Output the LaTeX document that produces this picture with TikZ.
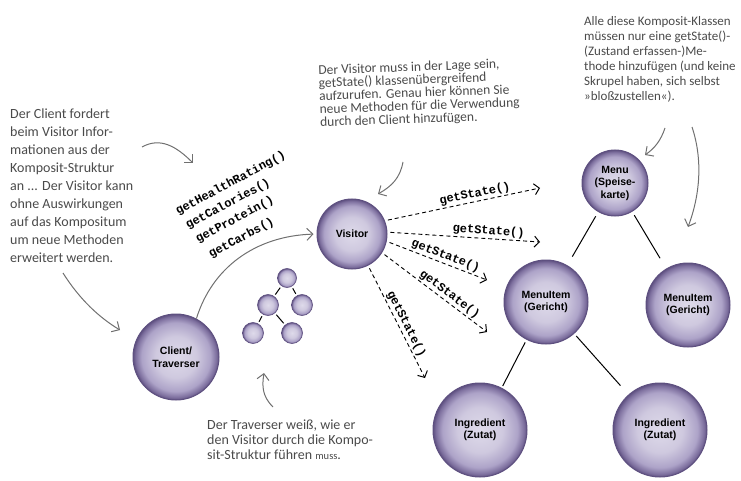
\documentclass[tikz,border=0pt]{standalone}
\usepackage{fontspec}
\setmainfont{Liberation Sans}
\newfontfamily\hand{Carlito}
\newfontfamily\code{Liberation Mono}
\usetikzlibrary{arrows.meta}
\definecolor{ballin}{HTML}{DEDAEA}
\definecolor{ballin2}{HTML}{CFC9DF}
\definecolor{ballmid}{HTML}{ADA3C8}
\definecolor{ballout}{HTML}{7D6F9E}
\definecolor{ballrim}{HTML}{5E5080}
\definecolor{handgray}{HTML}{4A4A4A}
\definecolor{arrowgray}{HTML}{707070}
\pgfdeclareradialshading{ballshade}{\pgfpointorigin}{color(0bp)=(ballin); color(12bp)=(ballin2); color(20bp)=(ballmid); color(23.5bp)=(ballout); color(25bp)=(ballrim); color(50bp)=(ballrim)}
\tikzset{
  ball/.style={circle, shading=ballshade, draw=ballrim, line width=1pt, inner sep=0pt, align=center,
    font=\bfseries\fontsize{10.5}{12.5}\selectfont},
  mini/.style={circle, shading=ballshade, draw=ballrim, line width=0.6pt, inner sep=0pt, minimum size=21},
  treeline/.style={line width=1pt, black},
  minitree/.style={line width=1pt, black},
  call/.style={dashed, line width=0.9pt, dash pattern=on 4pt off 3pt, -{Straight Barb[length=5pt,width=11pt,line width=1pt]}},
  calltext/.style={font=\code\bfseries\fontsize{12}{12}\selectfont, sloped, above, inner sep=1.5pt},
  method/.style={font=\code\bfseries\fontsize{12}{12}\selectfont, rotate=28, anchor=base west, inner sep=0pt},
  note/.style={font=\hand\fontsize{14}{18}\selectfont, text=handgray, align=left, anchor=north west, inner sep=0pt},
  pointer/.style={arrowgray, line width=1pt, -{Straight Barb[length=6pt,width=12pt,line width=1pt]}}
}
\begin{document}
\begin{tikzpicture}[x=1pt,y=-1pt]
\useasboundingbox (0,0) rectangle (741,481);

% main balls
\node[ball, minimum size=70] (visitor) at (352,234) {Visitor};
\node[ball, minimum size=86] (client) at (176,357) {Client/\\Traverser};
\node[ball, minimum size=66] (menu) at (615,183) {Menu\\(Speise-\\karte)};
\node[ball, minimum size=84] (item1) at (546,302) {MenuItem\\(Gericht)};
\node[ball, minimum size=84] (item2) at (688,305) {MenuItem\\(Gericht)};
\node[ball, minimum size=94] (ing1) at (480,430) {Ingredient\\(Zutat)};
\node[ball, minimum size=94] (ing2) at (660,430) {Ingredient\\(Zutat)};

% composite tree lines
\draw[treeline, shorten <=5pt, shorten >=10pt] (menu) -- (item1);
\draw[treeline, shorten <=4pt, shorten >=12pt] (menu) -- (item2);
\draw[treeline, shorten <=3pt, shorten >=2pt] (item1) -- (ing1);
\draw[treeline, shorten <=3pt, shorten >=12pt] (item1) -- (ing2);

% mini tree
\node[mini, minimum size=19] (t0) at (287,278) {};
\node[mini] (t1) at (268,305) {};
\node[mini] (t2) at (302,305) {};
\node[mini] (t3) at (253,333) {};
\node[mini] (t4) at (292,333) {};
\draw[minitree, shorten <=2pt, shorten >=2pt] (t0) -- (t1);
\draw[minitree, shorten <=2pt, shorten >=2pt] (t0) -- (t2);
\draw[minitree, shorten <=2pt, shorten >=2pt] (t1) -- (t3);
\draw[minitree, shorten <=2pt, shorten >=2pt] (t1) -- (t4);

% getState calls
\coordinate (e1) at (540,188);
\coordinate (e2) at (540,242);
\coordinate (e3) at (487,280);
\coordinate (e4) at (487,332);
\coordinate (e5) at (425,378);
\draw[call, shorten <=3pt] (visitor.22) -- node[calltext, pos=0.59] {getState()} (e1);
\draw[call, shorten <=3pt] (visitor.3) -- node[calltext, pos=0.66] {getState()} (e2);
\draw[call, shorten <=3pt] (visitor.-12) -- node[calltext, pos=0.56] {getState()} (e3);
\draw[call, shorten <=3pt] (visitor.-32) -- node[calltext, pos=0.6] {getState()} (e4);
\draw[call, shorten <=3pt] (visitor.-63) -- node[calltext, pos=0.55] {getState()} (e5);

% methods
\node[method] (m1) at (178,215) {getHealthRating()};
\node[method] (m2) at (188,229) {getCalories()};
\node[method] (m3) at (198,243) {getProtein()};
\node[method] (m4) at (211,258) {getCarbs()};

% client -> visitor
\draw[pointer, shorten >=3pt] (client.62) .. controls (212,268) and (255,236) .. (visitor.180);

% annotations
\node[note] (nleft) at (10,109) {Der Client fordert\\beim Visitor Infor-\\mationen aus der\\Komposit-Struktur\\an ... Der Visitor kann\\ohne Auswirkungen\\auf das Kompositum\\um neue Methoden\\erweitert werden.};
\node[note, font=\hand\fontsize{13.5}{13}\selectfont, rotate=2] (ntop) at (318,65) {Der Visitor muss in der Lage sein,\\getState() klassenübergreifend\\aufzurufen. Genau hier können Sie\\neue Methoden für die Verwendung\\durch den Client hinzufügen.};
\node[note, font=\hand\fontsize{13}{15}\selectfont] (nright) at (584,16) {Alle diese Komposit-Klassen\\müssen nur eine getState()-\\(Zustand erfassen-)Me-\\thode hinzufügen (und keine\\Skrupel haben, sich selbst\\»bloßzustellen«).};
\node[note, font=\hand\fontsize{14}{15}\selectfont] (nbottom) at (207,420) {Der Traverser weiß, wie er\\den Visitor durch die Kompo-\\sit-Struktur führen {\fontsize{10.5}{10}\selectfont muss}.};

% annotation pointers
\coordinate (a1s) at (63,273); \coordinate (a1e) at (120,330);
\draw[pointer] (a1s) .. controls (80,300) and (100,318) .. (a1e);
\coordinate (a2s) at (142,147); \coordinate (a2e) at (193,163);
\draw[pointer] (a2s) .. controls (160,137) and (176,146) .. (a2e);
\coordinate (a3s) at (403,162); \coordinate (a3e) at (378,194);
\draw[pointer] (a3s) .. controls (400,178) and (392,186) .. (a3e);
\coordinate (a4s) at (665,128); \coordinate (a4e) at (645,155);
\draw[pointer] (a4s) .. controls (661,140) and (655,148) .. (a4e);
\coordinate (a5s) at (692,127); \coordinate (a5e) at (688,227);
\draw[pointer] (a5s) .. controls (703,160) and (700,195) .. (a5e);
\coordinate (a6s) at (273,407); \coordinate (a6e) at (264,373);
\draw[pointer] (a6s) .. controls (262,396) and (262,386) .. (a6e);
\end{tikzpicture}
\end{document}
